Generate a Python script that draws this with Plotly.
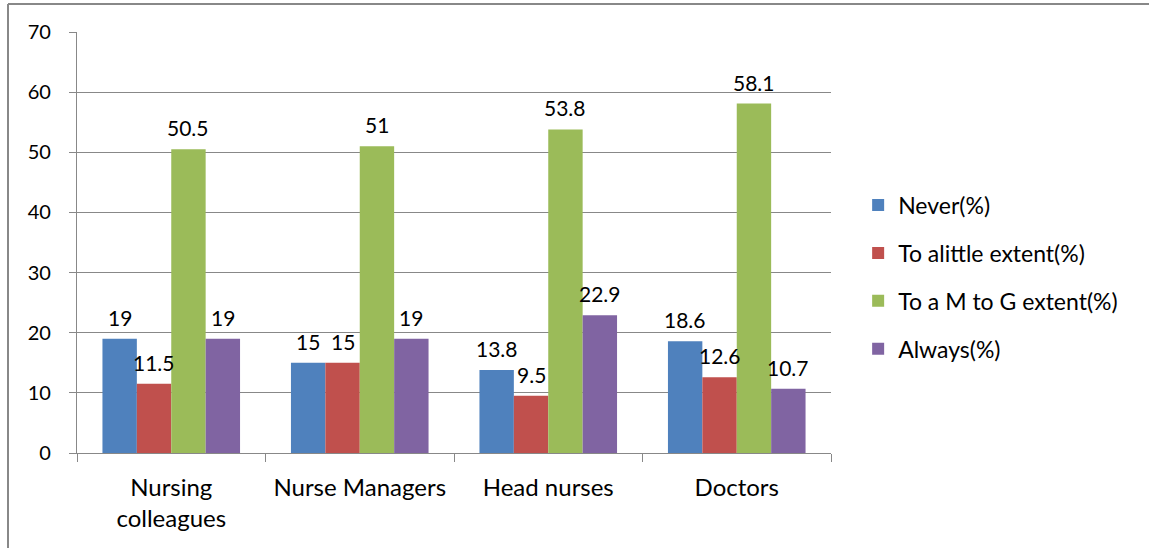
import plotly.graph_objects as go

categories = ["Nursing<br>colleagues", "Nurse Managers", "Head nurses", "Doctors"]
series_names = ["Never(%)", "To alittle extent(%)", "To a M to G extent(%)", "Always(%)"]
never = [19, 15, 13.8, 18.6]
little = [11.5, 15, 9.5, 12.6]
m_to_g = [50.5, 51, 53.8, 58.1]
always = [19, 19, 22.9, 10.7]
y_ticks = [0, 10, 20, 30, 40, 50, 60, 70]

colors = ["#4F81BD", "#C0504D", "#9BBB59", "#8064A2"]
grid = "#888888"
font = "Lato"

W, H = 1149, 548
L, R, T, B = 77, 318, 32, 95
pw, ph = W - L - R, H - T - B
bargap = 0.27

all_series = [never, little, m_to_g, always]
n = len(all_series)
bw = (1 - bargap) / n

fig = go.Figure()
for i, (name, vals) in enumerate(zip(series_names, all_series)):
	fig.add_trace(go.Bar(x = categories, y = vals, name = name,
	                     marker = dict(color = colors[i], line = dict(width = 0)),
	                     legendgroup = str(i)))
	# data labels as annotations so they can sit a bit higher above the bar, like Excel
	for c, v in enumerate(vals):
		fig.add_annotation(x = c + (i - (n - 1) / 2) * bw, y = v, text = str(v), showarrow = False,
		                   yanchor = "bottom", yshift = 7, font = dict(size = 21, color = "black"))

# outer chart frame (top and left edges visible)
fx0 = (8 - L) / pw
fy0 = 1 + (T - 4) / ph
fig.add_shape(type = "line", xref = "paper", yref = "paper", x0 = fx0, y0 = fy0, x1 = (W - L) / pw, y1 = fy0,
              line = dict(color = grid, width = 2))
fig.add_shape(type = "line", xref = "paper", yref = "paper", x0 = fx0, y0 = fy0, x1 = fx0, y1 = -B / ph,
              line = dict(color = grid, width = 2))

fig.update_layout(width = W, height = H,
                  margin = dict(l = L, r = R, t = T, b = B),
                  plot_bgcolor = "white", paper_bgcolor = "white",
                  barmode = "group", bargap = bargap, bargroupgap = 0,
                  font = dict(family = font, size = 20, color = "black"),
                  legend = dict(x = 1.036, y = 0.64, xanchor = "left", yanchor = "top",
                                font = dict(size = 23), tracegroupgap = 15))
fig.update_yaxes(range = [0, 70], tickvals = y_ticks, showgrid = True, gridcolor = grid, gridwidth = 1.3,
                 showline = True, linecolor = grid, linewidth = 1.3, ticklabelstandoff = 14,
                 ticks = "outside", ticklen = 7, tickcolor = grid, zeroline = False)
fig.update_xaxes(showline = True, linecolor = grid, linewidth = 1.3, tickson = "boundaries",
                 ticks = "outside", ticklen = 8, tickcolor = grid, showgrid = False,
                 tickfont = dict(size = 24), ticklabelstandoff = 13)

fig.write_html("out.html", config = dict(displayModeBar = False),
               post_script = "document.body.style.margin = '0';")
